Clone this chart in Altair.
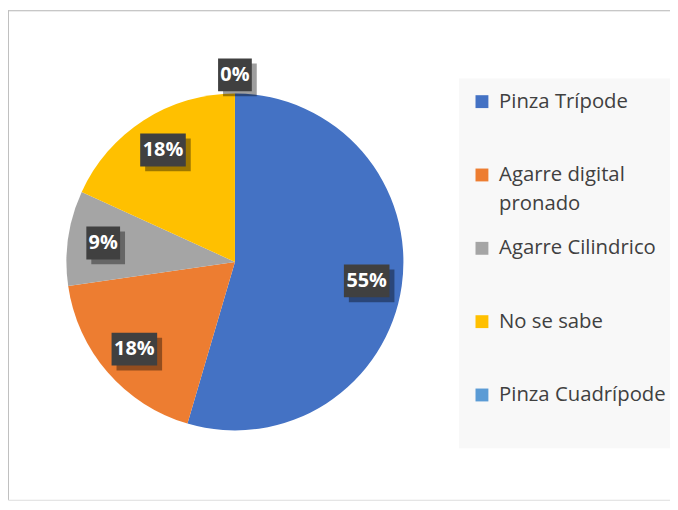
import altair as alt
import pandas as pd

# ---- data ----
categories = ["Pinza Trípode", "Agarre digital pronado", "Agarre Cilindrico",
              "No se sabe", "Pinza Cuadrípode"]
counts = [6, 2, 1, 2, 0]
colors = ["#4472C4", "#ED7D31", "#A5A5A5", "#FFC000", "#5B9BD5"]

df = pd.DataFrame({"cat": categories, "value": counts,
                   "idx": list(range(len(categories)))})

# ---- layout constants ----
W, H = 668, 494
CX, CY, R = 229, 254, 170
BOX3 = "M-1,-0.72L1,-0.72L1,0.72L-1,0.72Z"
BOX2 = "M-0.74,-0.72L0.74,-0.72L0.74,0.72L-0.74,0.72Z"
BOX_SIZE = 46 * 46

base = alt.Chart(df)

pie = base.mark_arc(radius=R).encode(
    theta=alt.Theta("value:Q", stack=True),
    color=alt.Color(
        "cat:N",
        sort=categories,
        scale=alt.Scale(domain=categories, range=colors),
        legend=alt.Legend(
            orient="none", legendX=455, legendY=69,
            title=" ", titleOrient="bottom", titleFontSize=1, titlePadding=0,
            fillColor="#f8f8f8", padding=13,
            symbolType="square", symbolSize=169, symbolStrokeWidth=0,
            labelFont="Open Sans", labelFontSize=20.5, labelColor="#404040",
            labelOffset=7, rowPadding=24, labelLimit=240,
            labelExpr="datum.label == 'Agarre digital pronado' ? ['Agarre digital', 'pronado'] : [datum.label, '']",
        ),
    ),
    order=alt.Order("idx:Q"),
    x=alt.value(CX),
    y=alt.value(CY),
)

lab = base.transform_joinaggregate(
    total="sum(value)"
).transform_window(
    cum="sum(value)", sort=[alt.SortField("idx")], frame=[None, 0]
).transform_calculate(
    mid="(datum.cum - datum.value / 2) / datum.total * 2 * PI",
    rr="datum.value == 0 ? 1.11 : 0.79",
    lx="datum.rr * sin(datum.mid)",
    ly="datum.rr * cos(datum.mid)",
    label="format(datum.value / datum.total, '.0%')",
)

xenc = alt.X("lx:Q", axis=None,
             scale=alt.Scale(domain=[-1, 1], range=[CX - R, CX + R], nice=False, zero=False))
yenc = alt.Y("ly:Q", axis=None,
             scale=alt.Scale(domain=[-1, 1], range=[CY + R, CY - R], nice=False, zero=False))
shape = alt.condition("length(datum.label) > 2", alt.value(BOX3), alt.value(BOX2))

shadow = lab.mark_point(filled=True, color="black", opacity=0.38, size=BOX_SIZE,
                        xOffset=5, yOffset=5).encode(x=xenc, y=yenc, shape=shape)
box = lab.mark_point(filled=True, color="#404040", opacity=1, size=BOX_SIZE).encode(
    x=xenc, y=yenc, shape=shape)
txt = lab.mark_text(color="white", fontSize=20, fontWeight="bold", font="Open Sans",
                    align="center", baseline="middle").encode(
    x=xenc, y=yenc, text="label:N")

one = alt.Chart(pd.DataFrame({"a": [0]}))
top_line = one.mark_rule(color="#bfbfbf", strokeWidth=1).encode(
    x=alt.value(0), x2=alt.value(W), y=alt.value(0.5))
left_line = one.mark_rule(color="#bfbfbf", strokeWidth=1).encode(
    x=alt.value(0.5), y=alt.value(0), y2=alt.value(H))

chart = alt.layer(top_line, left_line, pie, shadow, box, txt).properties(
    width=W, height=H, padding=0, autosize=alt.AutoSizeParams(type="none"),
    background="white",
).configure_view(stroke="transparent", strokeWidth=0).configure(
    style={"guide-label": {"lineHeight": 29}}
)

chart.save("out.html", embed_options={"renderer": "svg", "actions": False})
